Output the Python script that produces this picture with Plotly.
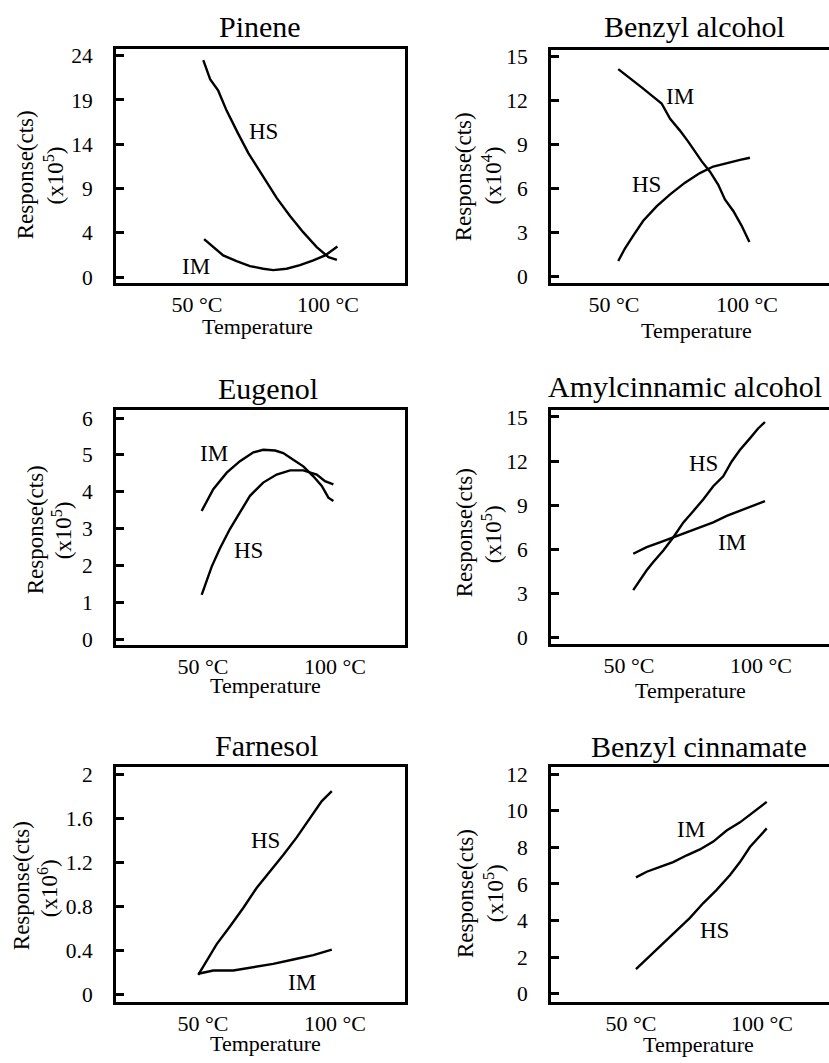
import plotly.graph_objects as go

W, H = 829, 1063

# ---------------- data ----------------
titles = ["Pinene", "Benzyl alcohol", "Eugenol", "Amylcinnamic alcohol",
          "Farnesol", "Benzyl cinnamate"]
exponents = ["5", "4", "5", "5", "6", "5"]
x_tick_vals = [50, 100]
x_tick_text = ["50 °C", "100 °C"]

# Pinene (label "0" sits one step below 4)
pinene_y_tickvals = [-1, 4, 9, 14, 19, 24]
pinene_y_ticktext = ["0", "4", "9", "14", "19", "24"]
pinene_T_hs = [52.4, 55.0, 58.1, 61.3, 65.7, 69.6, 72.8, 76.6, 80.4, 85.5, 90.6, 95.7, 100.2, 103.4]
pinene_hs = [23.5, 21.35, 20.05, 17.8, 15.2, 13.0, 11.5, 9.65, 7.95, 5.9, 4.05, 2.4, 1.25, 0.95]
pinene_T_im = [52.7, 56.2, 60.0, 65.1, 70.2, 75.3, 79.1, 84.2, 89.3, 94.4, 98.9, 103.6]
pinene_im = [3.3, 2.4, 1.45, 0.8, 0.25, -0.05, -0.2, -0.05, 0.35, 0.9, 1.45, 2.45]

# Benzyl alcohol
benzal_y_tickvals = [0, 3, 6, 9, 12, 15]
benzal_T_im = [51.6, 56.0, 60.4, 64.8, 67.9, 71.1, 74.8, 77.9, 80.5, 83.0, 86.1, 89.2, 91.7, 94.9, 98.0, 100.9]
benzal_im = [14.15, 13.55, 12.9, 12.25, 11.8, 10.75, 9.95, 9.2, 8.5, 7.85, 7.15, 6.25, 5.25, 4.45, 3.45, 2.35]
benzal_T_hs = [51.6, 54.1, 57.3, 61.0, 66.1, 71.1, 76.7, 82.3, 87.3, 92.4, 97.4, 101.1]
benzal_hs = [1.05, 1.9, 2.8, 3.8, 4.8, 5.6, 6.4, 7.05, 7.5, 7.75, 7.95, 8.1]

# Eugenol
eug_y_tickvals = [0, 1, 2, 3, 4, 5, 6]
eug_T_im = [49.5, 53.9, 59.0, 64.0, 69.1, 72.8, 77.3, 80.4, 84.2, 88.0, 91.8, 95.0, 97.5, 99.4]
eug_im = [3.48, 4.07, 4.52, 4.83, 5.07, 5.14, 5.12, 5.05, 4.87, 4.69, 4.42, 4.16, 3.84, 3.75]
eug_T_hs = [49.5, 51.4, 53.3, 56.4, 60.2, 64.0, 67.8, 72.8, 77.9, 83.0, 88.0, 93.1, 96.2, 99.4]
eug_hs = [1.2, 1.56, 1.97, 2.46, 2.99, 3.44, 3.89, 4.25, 4.47, 4.58, 4.58, 4.47, 4.29, 4.2]

# Amylcinnamic alcohol
amyl_y_tickvals = [0, 3, 6, 9, 12, 15]
amyl_T_hs = [51.6, 54.2, 56.7, 59.2, 63.0, 66.8, 70.6, 74.4, 78.1, 81.9, 85.7, 88.9, 92.0, 95.8, 98.9, 101.5]
amyl_hs = [3.24, 3.92, 4.59, 5.15, 5.93, 6.83, 7.84, 8.62, 9.4, 10.3, 10.97, 11.98, 12.76, 13.55, 14.22, 14.66]
amyl_T_im = [51.6, 56.7, 61.7, 66.8, 71.8, 76.9, 81.9, 87.0, 92.0, 97.1, 101.5]
amyl_im = [5.71, 6.16, 6.49, 6.83, 7.17, 7.5, 7.84, 8.28, 8.62, 8.95, 9.29]

# Farnesol
farn_y_tickvals = [0, 0.4, 0.8, 1.2, 1.6, 2]
farn_y_ticktext = ["0", "0.4", "0.8", "1.2", "1.6", "2"]
farn_T_hs = [48.2, 51.4, 55.2, 60.2, 65.3, 70.3, 75.4, 80.4, 85.5, 90.5, 95.0, 98.8]
farn_hs = [0.18, 0.31, 0.46, 0.62, 0.79, 0.97, 1.12, 1.27, 1.43, 1.61, 1.76, 1.85]
farn_T_im = [48.2, 53.9, 61.5, 69.1, 76.6, 84.2, 91.8, 98.8]
farn_im = [0.19, 0.22, 0.22, 0.25, 0.28, 0.32, 0.36, 0.41]

# Benzyl cinnamate
bcin_y_tickvals = [0, 2, 4, 6, 8, 10, 12]
bcin_T_im = [51.9, 56.0, 61.1, 66.1, 71.3, 76.3, 81.4, 86.5, 91.6, 96.7, 101.8]
bcin_im = [6.36, 6.67, 6.94, 7.2, 7.57, 7.89, 8.32, 8.92, 9.37, 9.95, 10.49]
bcin_T_hs = [51.9, 57.3, 62.3, 67.4, 72.5, 77.6, 82.7, 87.8, 91.6, 95.4, 98.6, 101.8]
bcin_hs = [1.35, 2.07, 2.79, 3.42, 4.15, 4.96, 5.68, 6.49, 7.2, 8.02, 8.56, 9.04]

# curve label positions (data coords)
labels = [
    [("HS", 75.2, 15.4), ("IM", 49.6, 0.15)],
    [("IM", 74.8, 12.3), ("HS", 62.3, 6.26)],
    [("IM", 54.2, 5.03), ("HS", 67.2, 2.41)],
    [("HS", 78.1, 11.87), ("IM", 88.9, 6.49)],
    [("HS", 73.5, 1.4), ("IM", 87.4, 0.11)],
    [("IM", 72.8, 8.97), ("HS", 81.7, 3.46)],
]

series = [
    [(pinene_T_hs, pinene_hs), (pinene_T_im, pinene_im)],
    [(benzal_T_im, benzal_im), (benzal_T_hs, benzal_hs)],
    [(eug_T_im, eug_im), (eug_T_hs, eug_hs)],
    [(amyl_T_hs, amyl_hs), (amyl_T_im, amyl_im)],
    [(farn_T_hs, farn_hs), (farn_T_im, farn_im)],
    [(bcin_T_im, bcin_im), (bcin_T_hs, bcin_hs)],
]
ytick_vals = [pinene_y_tickvals, benzal_y_tickvals, eug_y_tickvals,
              amyl_y_tickvals, farn_y_tickvals, bcin_y_tickvals]
ytick_text = [pinene_y_ticktext, [str(v) for v in benzal_y_tickvals],
              [str(v) for v in eug_y_tickvals], [str(v) for v in amyl_y_tickvals],
              farn_y_ticktext, [str(v) for v in bcin_y_tickvals]]

# ---------------- layout geometry (pixels) ----------------
frames = [(116, 405, 44, 281), (551, 829, 46, 281),
          (116, 405, 410, 647), (551, 829, 410, 646),
          (116, 405, 771, 1008), (551, 829, 771, 1008)]
x_ranges = [[19.08, 129.39], [26.32, 130.83], [17.05, 126.52],
            [20.45, 125.76], [17.05, 126.52], [19.47, 125.57]]
y_ranges = [[-1.64, 24.81], [-0.44, 15.42], [-0.15, 6.21],
            [-0.40, 15.45], [-0.063, 2.067], [-0.43, 12.38]]
title_pos = [(260, 26), (694, 26), (268, 392), (685, 390), (266, 753), (699, 754)]
# (x centre, top y) of the rotated y-axis title lines
resp_pos = [(25, 106), (463, 107), (35, 465), (464, 468), (21, 825), (465, 833)]
unit_pos = [(54, 142), (492, 142), (62, 501), (492, 505), (48, 863), (494, 868)]
xtitle_pos = [(257, 327), (696, 331), (265, 690), (690, 695), (265, 1052), (698, 1053)]
x_is_left = [True, False, True, False, True, False]

FONT = "Liberation Serif"
fig = go.Figure()
layout = dict(width=W, height=H, margin=dict(l=0, r=0, t=0, b=0),
              paper_bgcolor="white", plot_bgcolor="white", showlegend=False,
              font=dict(family=FONT, color="black", size=22))
ann = []

def px(x):
    return x / W

def py(y):
    return 1 - y / H

for i in range(6):
    n = "" if i == 0 else str(i + 1)
    L, R, T, B = frames[i]
    for (xs, ys) in series[i]:
        fig.add_trace(go.Scatter(x=xs, y=ys, mode="lines",
                                 line=dict(color="black", width=2.4),
                                 xaxis="x" + n, yaxis="y" + n, hoverinfo="skip"))
    layout["xaxis" + n] = dict(
        domain=[px(L), min(px(R), 1.0)], range=x_ranges[i], anchor="y" + n,
        showgrid=False, zeroline=False, showline=True, linecolor="black",
        linewidth=3, mirror=True, ticks="", tickvals=x_tick_vals,
        ticktext=x_tick_text, tickfont=dict(size=22, family=FONT),
        ticklabelstandoff=0)
    layout["yaxis" + n] = dict(
        domain=[py(B), py(T)], range=y_ranges[i], anchor="x" + n,
        showgrid=False, zeroline=False, showline=True, linecolor="black",
        linewidth=3, mirror=x_is_left[i], ticks="inside", ticklen=8,
        tickwidth=2.5, tickcolor="black", tickvals=ytick_vals[i],
        ticktext=ytick_text[i], tickfont=dict(size=21.5, family=FONT),
        ticklabelstandoff=16)
    ann.append(dict(text=titles[i], x=px(title_pos[i][0]), y=py(title_pos[i][1] - 4),
                    xref="paper", yref="paper", showarrow=False,
                    xanchor="center", yanchor="middle", font=dict(size=30)))
    ann.append(dict(text="Response(cts)",
                    x=px(resp_pos[i][0]), y=py(resp_pos[i][1]),
                    xref="paper", yref="paper", showarrow=False, textangle=-90,
                    xanchor="center", yanchor="top", borderpad=0,
                    font=dict(size=23, family=FONT)))
    ann.append(dict(text="(x10<sup>%s</sup>)" % exponents[i],
                    x=px(unit_pos[i][0]), y=py(unit_pos[i][1]),
                    xref="paper", yref="paper", showarrow=False, textangle=-90,
                    xanchor="center", yanchor="top", borderpad=0,
                    font=dict(size=23, family=FONT)))
    ann.append(dict(text="Temperature", x=px(xtitle_pos[i][0]), y=py(xtitle_pos[i][1] - 2),
                    xref="paper", yref="paper", showarrow=False,
                    xanchor="center", yanchor="middle", font=dict(size=22)))
    for (t, lx, ly) in labels[i]:
        ann.append(dict(text=t, x=lx, y=ly, xref="x" + n, yref="y" + n,
                        showarrow=False, xanchor="center", yanchor="middle",
                        font=dict(size=23)))

layout["annotations"] = ann
fig.update_layout(**layout)
fig.write_html("out.html")
